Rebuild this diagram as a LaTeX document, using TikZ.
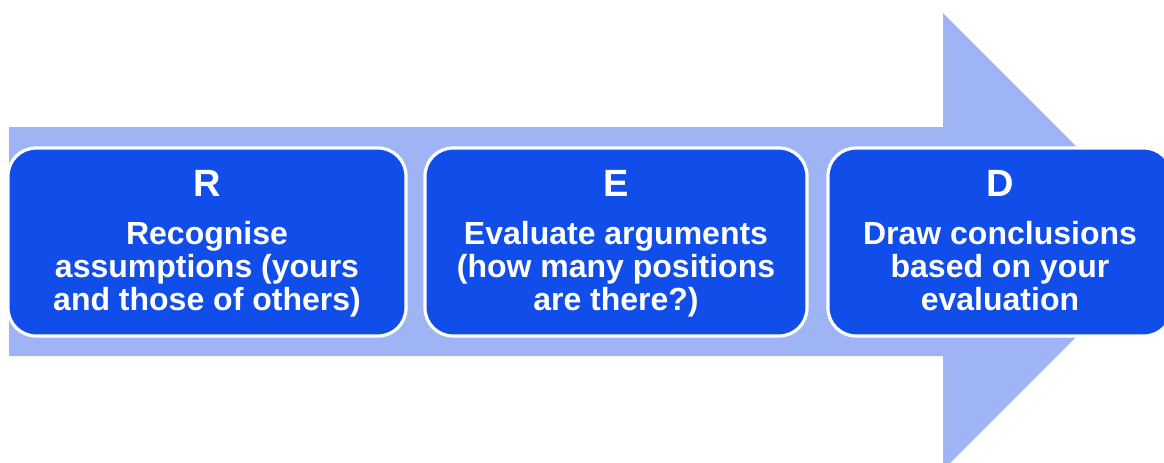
\documentclass[tikz,border=0pt]{standalone}
\usepackage{fontspec}
\setmainfont{Liberation Sans}
\usepackage{tikz}
\usetikzlibrary{positioning}
\definecolor{arrowblue}{HTML}{9EB4F5}
\definecolor{boxblue}{HTML}{114DE8}
\tikzstyle{bigarrow}=[fill=arrowblue,draw=none]
\tikzstyle{stepbox}=[rectangle,rounded corners=14pt,draw=white,line width=1.6pt,fill=boxblue,minimum height=94pt,inner sep=0pt]
\tikzstyle{head}=[font=\fontsize{19}{22}\selectfont\bfseries,text=white,inner sep=0pt]
\tikzstyle{body}=[font=\fontsize{16}{16.5}\selectfont\bfseries,text=white,align=center,inner sep=0pt]

\begin{document}
\begin{tikzpicture}[x=0.5pt,y=-0.5pt]

	\useasboundingbox (0,0) rectangle (1164,462);
	\clip (0,0) rectangle (1164,462);

%arrow
	\path[bigarrow] (9,127) -- (943,127) -- (943,13) -- (1171.5,241.5) -- (943,470) -- (943,356) -- (9,356) -- cycle;

%boxes
    \foreach \x/\w/\name in {207/199pt/R, 616/191pt/E, 1000/172pt/D}
        \node[stepbox, minimum width=\w] (\name) at (\x,242) {};

%labels
    \foreach \x/\name/\ltr in {207/R/R, 616/E/E, 1000/D/D}
        \node[head, anchor=base] (\name t) at (\x,196) {\ltr};

    \foreach \x/\name/\txt in {{207/R/Recognise\\assumptions (yours\\and those of others)}, {616/E/Evaluate arguments\\(how many positions\\are there?)}, {1000/D/Draw conclusions\\based on your\\evaluation}}
        \node[body, anchor=base] (\name b) at (\x,310) {\txt};

\end{tikzpicture}
\end{document}
